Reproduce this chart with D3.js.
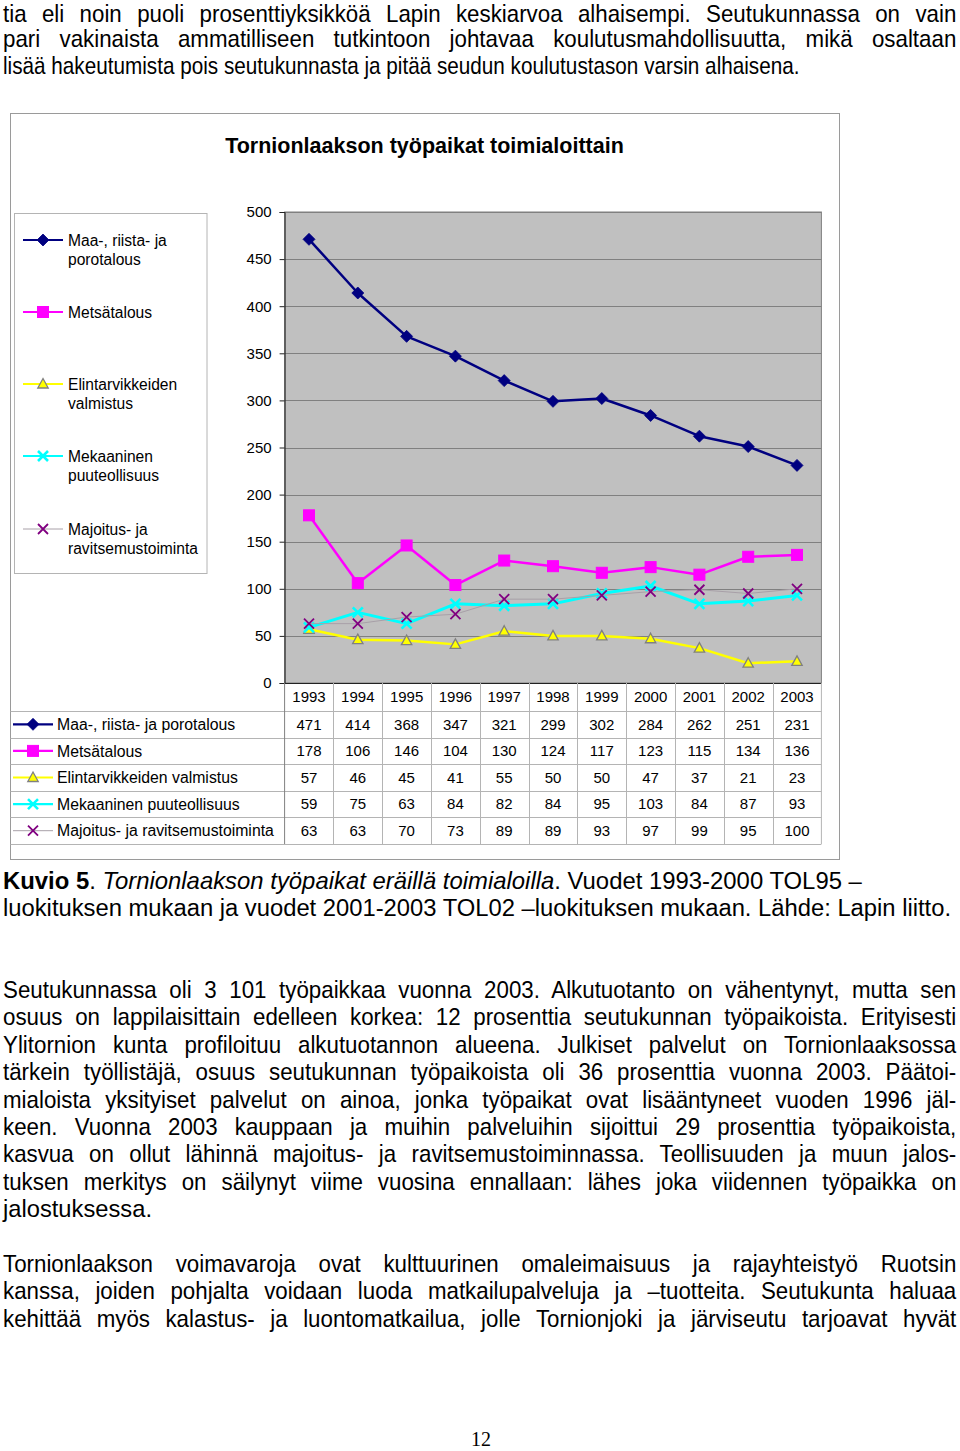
<!DOCTYPE html>
<html><head><meta charset="utf-8">
<script src="https://cdn.jsdelivr.net/npm/d3@7"></script>
<style>body{margin:0;background:#fff}svg{display:block}</style>
</head><body>
<script>
// ---------- data ----------
const years = [1993,1994,1995,1996,1997,1998,1999,2000,2001,2002,2003];
const seriesNames = ["Maa-, riista- ja porotalous","Metsätalous","Elintarvikkeiden valmistus","Mekaaninen puuteollisuus","Majoitus- ja ravitsemustoiminta"];
const legendLabels = [["Maa-, riista- ja","porotalous"],["Metsätalous"],["Elintarvikkeiden","valmistus"],["Mekaaninen","puuteollisuus"],["Majoitus- ja","ravitsemustoiminta"]];
const maaRiista     = [471,414,368,347,321,299,302,284,262,251,231];
const metsatalous   = [178,106,146,104,130,124,117,123,115,134,136];
const elintarvikkeet= [57,46,45,41,55,50,50,47,37,21,23];
const mekaaninen    = [59,75,63,84,82,84,95,103,84,87,93];
const majoitus      = [63,63,70,73,89,89,93,97,99,95,100];
const yTicks = [0,50,100,150,200,250,300,350,400,450,500];
const chartTitle = "Tornionlaakson työpaikat toimialoittain";

const seriesValues = [maaRiista, metsatalous, elintarvikkeet, mekaaninen, majoitus];

// ---------- styles ----------
const styles = [
  {line:"#000080", lw:2.5, marker:"diamond", fill:"#000080", stroke:"#000080"},
  {line:"#ff00ff", lw:2.5, marker:"square", fill:"#ff00ff", stroke:"#ff00ff"},
  {line:"#ffff00", lw:2.5, marker:"triangle", fill:"#ffff00", stroke:"#808080"},
  {line:"#00ffff", lw:3, marker:"x", fill:"none", stroke:"#00ffff", xw:2.6},
  {line:"#a8a0a8", lw:1, marker:"x", fill:"none", stroke:"#800080", xw:1.8}
];

const FONT = "'Liberation Sans', Arial, Helvetica, sans-serif";
const svg = d3.select("body").append("svg").attr("width",960).attr("height",1451)
  .style("font-family", FONT);

// ---------- body text ----------
const textLines = [
  {y:22, parts:[{t:"tia eli noin puoli prosenttiyksikköä Lapin keskiarvoa alhaisempi. Seutukunnassa on vain"}], end:957, j:true},
  {y:47.4, parts:[{t:"pari vakinaista ammatilliseen tutkintoon johtavaa koulutusmahdollisuutta, mikä osaltaan"}], end:957, j:true},
  {y:73.6, parts:[{t:"lisää hakeutumista pois seutukunnasta ja pitää seudun koulutustason varsin alhaisena."}], end:800},
  {y:888.8, parts:[{t:"Kuvio 5",b:true},{t:". "},{t:"Tornionlaakson työpaikat eräillä toimialoilla",i:true},{t:". Vuodet 1993-2000 TOL95 –"}], end:862},
  {y:916.1, parts:[{t:"luokituksen mukaan ja vuodet 2001-2003 TOL02 –luokituksen mukaan. Lähde: Lapin liitto."}], end:952},
];
const para2 = [
  "Seutukunnassa oli 3 101 työpaikkaa vuonna 2003. Alkutuotanto on vähentynyt, mutta sen",
  "osuus on lappilaisittain edelleen korkea: 12 prosenttia seutukunnan työpaikoista. Erityisesti",
  "Ylitornion kunta profiloituu alkutuotannon alueena. Julkiset palvelut on Tornionlaaksossa",
  "tärkein työllistäjä, osuus seutukunnan työpaikoista oli 36 prosenttia vuonna 2003. Päätoi-",
  "mialoista yksityiset palvelut on ainoa, jonka työpaikat ovat lisääntyneet vuoden 1996 jäl-",
  "keen. Vuonna 2003 kauppaan ja muihin palveluihin sijoittui 29 prosenttia työpaikoista,",
  "kasvua on ollut lähinnä majoitus- ja ravitsemustoiminnassa. Teollisuuden ja muun jalos-",
  "tuksen merkitys on säilynyt viime vuosina ennallaan: lähes joka viidennen työpaikka on",
  "jalostuksessa."
];
para2.forEach((s,i)=>textLines.push({y:998+i*27.4, parts:[{t:s}], end: i===8?152:957, j: i<8}));
const para3 = [
  "Tornionlaakson voimavaroja ovat kulttuurinen omaleimaisuus ja rajayhteistyö Ruotsin",
  "kanssa, joiden pohjalta voidaan luoda matkailupalveluja ja –tuotteita. Seutukunta haluaa",
  "kehittää myös kalastus- ja luontomatkailua, jolle Tornionjoki ja järviseutu tarjoavat hyvät"
];
para3.forEach((s,i)=>textLines.push({y:1272+i*27.3, parts:[{t:s}], end:957, j:true}));

const tg = svg.append("g").attr("fill","#000");
textLines.forEach(L=>{
  const x0 = 3, target = L.end - x0;
  const t = tg.append("text").attr("x",0).attr("y",0).style("font-size","24px");
  L.parts.forEach(p=>t.append("tspan").text(p.t)
    .style("font-weight",p.b?"bold":null).style("font-style",p.i?"italic":null));
  const w = t.node().getComputedTextLength();
  let sx = 1;
  if (L.j) {
    const full = L.parts.map(p=>p.t).join("");
    const nsp = (full.match(/ /g)||[]).length;
    const glyphScale = 0.93;
    if (w*glyphScale > target) { sx = target/w; }
    else { sx = glyphScale; t.attr("word-spacing", ((target/sx - w)/nsp).toFixed(3)); }
  } else {
    sx = target/w;
  }
  t.attr("transform",`translate(${x0},${L.y}) scale(${sx.toFixed(4)},1)`);
});
svg.append("text").attr("x",481).attr("y",1446).attr("text-anchor","middle")
  .style("font-family","'Liberation Serif', 'Times New Roman', serif").style("font-size","20px").text("12");

// ---------- chart frame ----------
svg.append("rect").attr("x",10.5).attr("y",113.5).attr("width",829).attr("height",746)
  .attr("fill","#fff").attr("stroke","#9a9a9a").attr("stroke-width",1);

svg.append("text").attr("x",424.5).attr("y",153).attr("text-anchor","middle")
  .style("font-weight","bold").style("font-size","21.5px").text(chartTitle);

// ---------- scales ----------
const plot = {l:284.6, r:821.4, t:212, b:683};
const x = d3.scaleBand().domain(years).range([plot.l, plot.r]);
const y = d3.scaleLinear().domain([0,500]).range([plot.b, plot.t]);
const cx = d => x(d) + x.bandwidth()/2;

// plot background
svg.append("rect").attr("x",plot.l).attr("y",plot.t).attr("width",plot.r-plot.l).attr("height",plot.b-plot.t)
  .attr("fill","#c0c0c0").attr("stroke","#808080").attr("stroke-width",1);

// gridlines
svg.append("g").selectAll("line").data(yTicks.filter(v=>v>0)).join("line")
  .attr("x1",plot.l).attr("x2",plot.r).attr("y1",d=>Math.round(y(d))+0.5).attr("y2",d=>Math.round(y(d))+0.5)
  .attr("stroke","#808080").attr("stroke-width",1);

// y axis
const yAxis = d3.axisLeft(y).tickValues(yTicks).tickSize(5).tickPadding(8).tickFormat(d3.format("d"));
const ya = svg.append("g").attr("transform",`translate(${plot.l},0)`).call(yAxis);
ya.select(".domain").attr("stroke","#222");
ya.selectAll(".tick line").attr("stroke","#222");
ya.selectAll(".tick text").style("font-size","15px").style("font-family",FONT).attr("fill","#000");
// bottom axis line
svg.append("line").attr("x1",plot.l).attr("x2",plot.r).attr("y1",plot.b+0.5).attr("y2",plot.b+0.5).attr("stroke","#222");

// ---------- data table ----------
const tbl = {top:711, rowH:26.6, left:10.5};
const tableBottom = tbl.top + tbl.rowH*5;
const tgrid = svg.append("g").attr("stroke","#b4b4b4").attr("stroke-width",1);
d3.range(6).forEach(i=>{
  const yy = Math.round(tbl.top + i*tbl.rowH)+0.5;
  tgrid.append("line").attr("x1",tbl.left).attr("x2",plot.r).attr("y1",yy).attr("y2",yy);
});
years.forEach((yr,i)=>{
  if (i>0) tgrid.append("line").attr("x1",Math.round(x(yr))+0.5).attr("x2",Math.round(x(yr))+0.5)
    .attr("y1",plot.b).attr("y2",tableBottom);
});
tgrid.append("line").attr("x1",plot.r).attr("x2",plot.r).attr("y1",plot.b).attr("y2",tableBottom);
tgrid.append("line").attr("x1",plot.l).attr("x2",plot.l).attr("y1",plot.b).attr("y2",tableBottom).attr("stroke","#808080");

// year labels
svg.append("g").selectAll("text").data(years).join("text")
  .attr("x",d=>cx(d)).attr("y",701.5).attr("text-anchor","middle").style("font-size","15px").text(d=>d);

// ---------- marker drawing ----------
function drawMarker(g, st, px, py) {
  if (st.marker==="diamond") {
    const r=6;
    g.append("path").attr("d",`M${px},${py-r}L${px+r},${py}L${px},${py+r}L${px-r},${py}Z`)
      .attr("fill",st.fill).attr("stroke",st.stroke).attr("stroke-width",0.8);
  } else if (st.marker==="square") {
    const s=11;
    g.append("rect").attr("x",px-s/2).attr("y",py-s/2).attr("width",s).attr("height",s)
      .attr("fill",st.fill).attr("stroke",st.stroke);
  } else if (st.marker==="triangle") {
    g.append("path").attr("d",`M${px},${py-5.5}L${px+5.2},${py+4}L${px-5.2},${py+4}Z`)
      .attr("fill",st.fill).attr("stroke",st.stroke).attr("stroke-width",1.3);
  } else if (st.marker==="x") {
    const r=5;
    g.append("path").attr("d",`M${px-r},${py-r}L${px+r},${py+r}M${px-r},${py+r}L${px+r},${py-r}`)
      .attr("fill","none").attr("stroke",st.stroke).attr("stroke-width",st.xw);
  }
}
function drawKey(g, st, x1, x2, yy) {
  g.append("line").attr("x1",x1).attr("x2",x2).attr("y1",yy).attr("y2",yy)
    .attr("stroke",st.line).attr("stroke-width",Math.min(st.lw,2.2));
  drawMarker(g, st, (x1+x2)/2, yy);
}

// table rows
seriesValues.forEach((vals,si)=>{
  const rc = tbl.top + tbl.rowH*(si+0.5);
  const g = svg.append("g");
  drawKey(g, styles[si], 13, 53, rc);
  g.append("text").attr("x",57).attr("y",rc+5.6).style("font-size","15.8px").text(seriesNames[si]);
  g.selectAll("text.v").data(vals).join("text").attr("class","v")
    .attr("x",(d,i)=>cx(years[i])).attr("y",rc+5.3).attr("text-anchor","middle")
    .style("font-size","15px").text(d=>d);
});

// ---------- series lines ----------
const lineGen = d3.line().x((d,i)=>cx(years[i])).y(d=>y(d));
seriesValues.forEach((vals,si)=>{
  const st = styles[si];
  const g = svg.append("g");
  g.append("path").attr("d",lineGen(vals)).attr("fill","none").attr("stroke",st.line)
    .attr("stroke-width",st.lw).attr("stroke-linejoin","round");
  vals.forEach((v,i)=>drawMarker(g, st, cx(years[i]), y(v)));
});

// ---------- legend ----------
svg.append("rect").attr("x",14.5).attr("y",213.5).attr("width",192.5).attr("height",360)
  .attr("fill","#fff").attr("stroke","#b4b4b4");
const legendY = [240, 312, 384, 456, 529];
legendLabels.forEach((lbl,si)=>{
  const g = svg.append("g");
  drawKey(g, styles[si], 23, 63, legendY[si]);
  lbl.forEach((s,k)=>g.append("text").attr("x",68).attr("y",legendY[si]+5.6+k*19)
    .style("font-size","15.6px").text(s));
});
</script>
</body></html>
